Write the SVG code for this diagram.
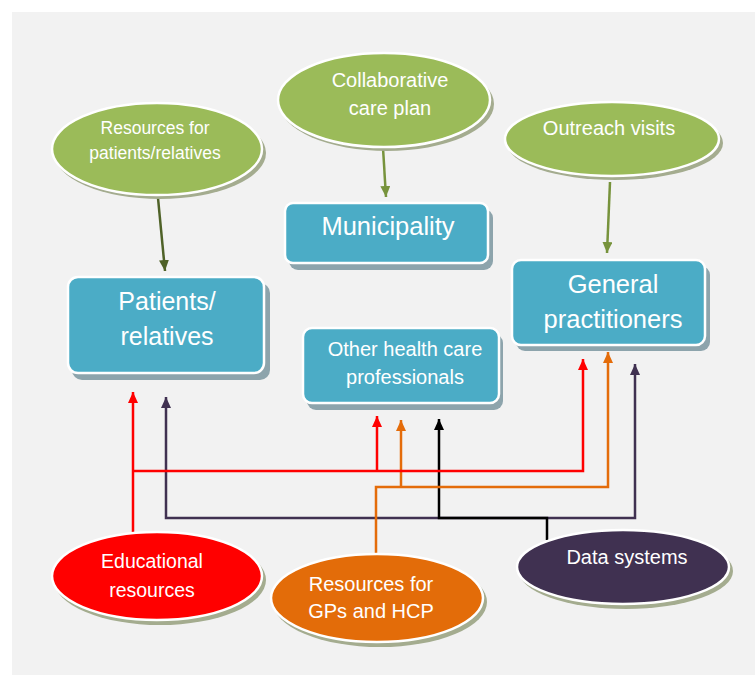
<svg xmlns="http://www.w3.org/2000/svg" width="755" height="675" viewBox="0 0 755 675">
<defs>
<style>
.t{font-family:"Liberation Sans",Arial,sans-serif;fill:#ffffff;text-anchor:middle}
.sh-e{fill:#a4ac8f}
.sh-r{fill:#8da4ac}
.node{stroke:#ffffff;stroke-width:2.5}
.green{fill:#9bbb59}
.blue{fill:#4bacc6}
.c{fill:none;stroke-width:2.5}
</style>
<marker id="aDk" viewBox="0 0 10 10" refX="10" refY="5" markerWidth="11" markerHeight="10" markerUnits="userSpaceOnUse" orient="auto" preserveAspectRatio="none"><path d="M0,0L10,5L0,10z" fill="#4f6228"/></marker>
<marker id="aGr" viewBox="0 0 10 10" refX="10" refY="5" markerWidth="11" markerHeight="10" markerUnits="userSpaceOnUse" orient="auto" preserveAspectRatio="none"><path d="M0,0L10,5L0,10z" fill="#77933c"/></marker>
<marker id="aRd" viewBox="0 0 10 10" refX="10" refY="5" markerWidth="11" markerHeight="10" markerUnits="userSpaceOnUse" orient="auto" preserveAspectRatio="none"><path d="M0,0L10,5L0,10z" fill="#ff0000"/></marker>
<marker id="aOr" viewBox="0 0 10 10" refX="10" refY="5" markerWidth="11" markerHeight="10" markerUnits="userSpaceOnUse" orient="auto" preserveAspectRatio="none"><path d="M0,0L10,5L0,10z" fill="#e46c0a"/></marker>
<marker id="aPu" viewBox="0 0 10 10" refX="10" refY="5" markerWidth="11" markerHeight="10" markerUnits="userSpaceOnUse" orient="auto" preserveAspectRatio="none"><path d="M0,0L10,5L0,10z" fill="#403151"/></marker>
<marker id="aBk" viewBox="0 0 10 10" refX="10" refY="5" markerWidth="11" markerHeight="10" markerUnits="userSpaceOnUse" orient="auto" preserveAspectRatio="none"><path d="M0,0L10,5L0,10z" fill="#000000"/></marker>
</defs>
<rect x="12" y="12" width="743" height="663" fill="#f2f2f2"/>

<g id="connectors">
<path class="c" d="M158,198 L165,271" stroke="#4f6228" marker-end="url(#aDk)"/>
<path class="c" d="M383,148 L386,197" stroke="#77933c" marker-end="url(#aGr)"/>
<path class="c" d="M610,182 L607,253" stroke="#77933c" marker-end="url(#aGr)"/>
<path class="c" d="M547,518 H166 V397" stroke="#403151" marker-end="url(#aPu)"/>
<path class="c" d="M547,518 H635 V364" stroke="#403151" marker-end="url(#aPu)"/>
<path class="c" d="M547,540 V518 H439 V419" stroke="#000000" marker-end="url(#aBk)"/>
<path class="c" d="M376,556 V487 H608 V352" stroke="#e46c0a" marker-end="url(#aOr)"/>
<path class="c" d="M401,487 V420" stroke="#e46c0a" marker-end="url(#aOr)"/>
<path class="c" d="M133,534 V392" stroke="#ff0000" stroke-width="3" marker-end="url(#aRd)"/>
<path class="c" d="M133,471 H583 V359" stroke="#ff0000" stroke-width="3" marker-end="url(#aRd)"/>
<path class="c" d="M377,471 V416" stroke="#ff0000" stroke-width="3" marker-end="url(#aRd)"/>
</g>

<g id="res-patients">
<ellipse class="sh-e" cx="160" cy="153" rx="106" ry="46"/>
<ellipse class="node green" cx="157" cy="149" rx="105" ry="46"/>
<text class="t" x="155" y="134" font-size="17.5">Resources for</text>
<text class="t" x="155" y="159" font-size="17.5">patients/relatives</text>
</g>

<g id="collab">
<ellipse class="sh-e" cx="387" cy="104" rx="107" ry="47"/>
<ellipse class="node green" cx="384" cy="100" rx="106" ry="47"/>
<text class="t" x="390" y="87" font-size="20">Collaborative</text>
<text class="t" x="390" y="115" font-size="20">care plan</text>
</g>

<g id="outreach">
<ellipse class="sh-e" cx="615" cy="143" rx="108" ry="37"/>
<ellipse class="node green" cx="612" cy="139" rx="107" ry="37"/>
<text class="t" x="609" y="135" font-size="20">Outreach visits</text>
</g>

<g id="municipality">
<rect class="sh-r" x="289" y="209" width="204" height="61" rx="9"/>
<rect class="node blue" x="285" y="203" width="203" height="60" rx="8"/>
<text class="t" x="388" y="235" font-size="25.5">Municipality</text>
</g>

<g id="patients">
<rect class="sh-r" x="72" y="283" width="198" height="97" rx="10"/>
<rect class="node blue" x="68" y="277" width="196" height="96" rx="10"/>
<text class="t" x="167" y="310" font-size="25">Patients/</text>
<text class="t" x="167" y="345" font-size="25">relatives</text>
</g>

<g id="gp">
<rect class="sh-r" x="516" y="266" width="194" height="85" rx="9"/>
<rect class="node blue" x="512" y="260" width="193" height="85" rx="9"/>
<text class="t" x="613" y="293" font-size="25.5">General</text>
<text class="t" x="613" y="328" font-size="25.5">practitioners</text>
</g>

<g id="ohcp">
<rect class="sh-r" x="307" y="334" width="196" height="76" rx="9"/>
<rect class="node blue" x="303" y="328" width="196" height="75" rx="9"/>
<text class="t" x="405" y="356" font-size="20">Other health care</text>
<text class="t" x="405" y="384" font-size="20">professionals</text>
</g>

<g id="educational">
<ellipse class="sh-e" cx="160" cy="580" rx="106" ry="45"/>
<ellipse class="node" fill="#ff0000" cx="157" cy="576" rx="105" ry="44"/>
<text class="t" x="152" y="568" font-size="19.5">Educational</text>
<text class="t" x="152" y="597" font-size="19.5">resources</text>
</g>

<g id="res-gp">
<ellipse class="sh-e" cx="380" cy="602" rx="107" ry="45"/>
<ellipse class="node" fill="#e36c09" cx="377" cy="598" rx="106" ry="44"/>
<text class="t" x="371" y="591" font-size="20">Resources for</text>
<text class="t" x="371" y="618" font-size="20">GPs and HCP</text>
</g>

<g id="data">
<ellipse class="sh-e" cx="626" cy="571" rx="107" ry="38"/>
<ellipse class="node" fill="#403151" cx="623" cy="567" rx="106" ry="37"/>
<text class="t" x="627" y="564" font-size="20">Data systems</text>
</g>
</svg>
